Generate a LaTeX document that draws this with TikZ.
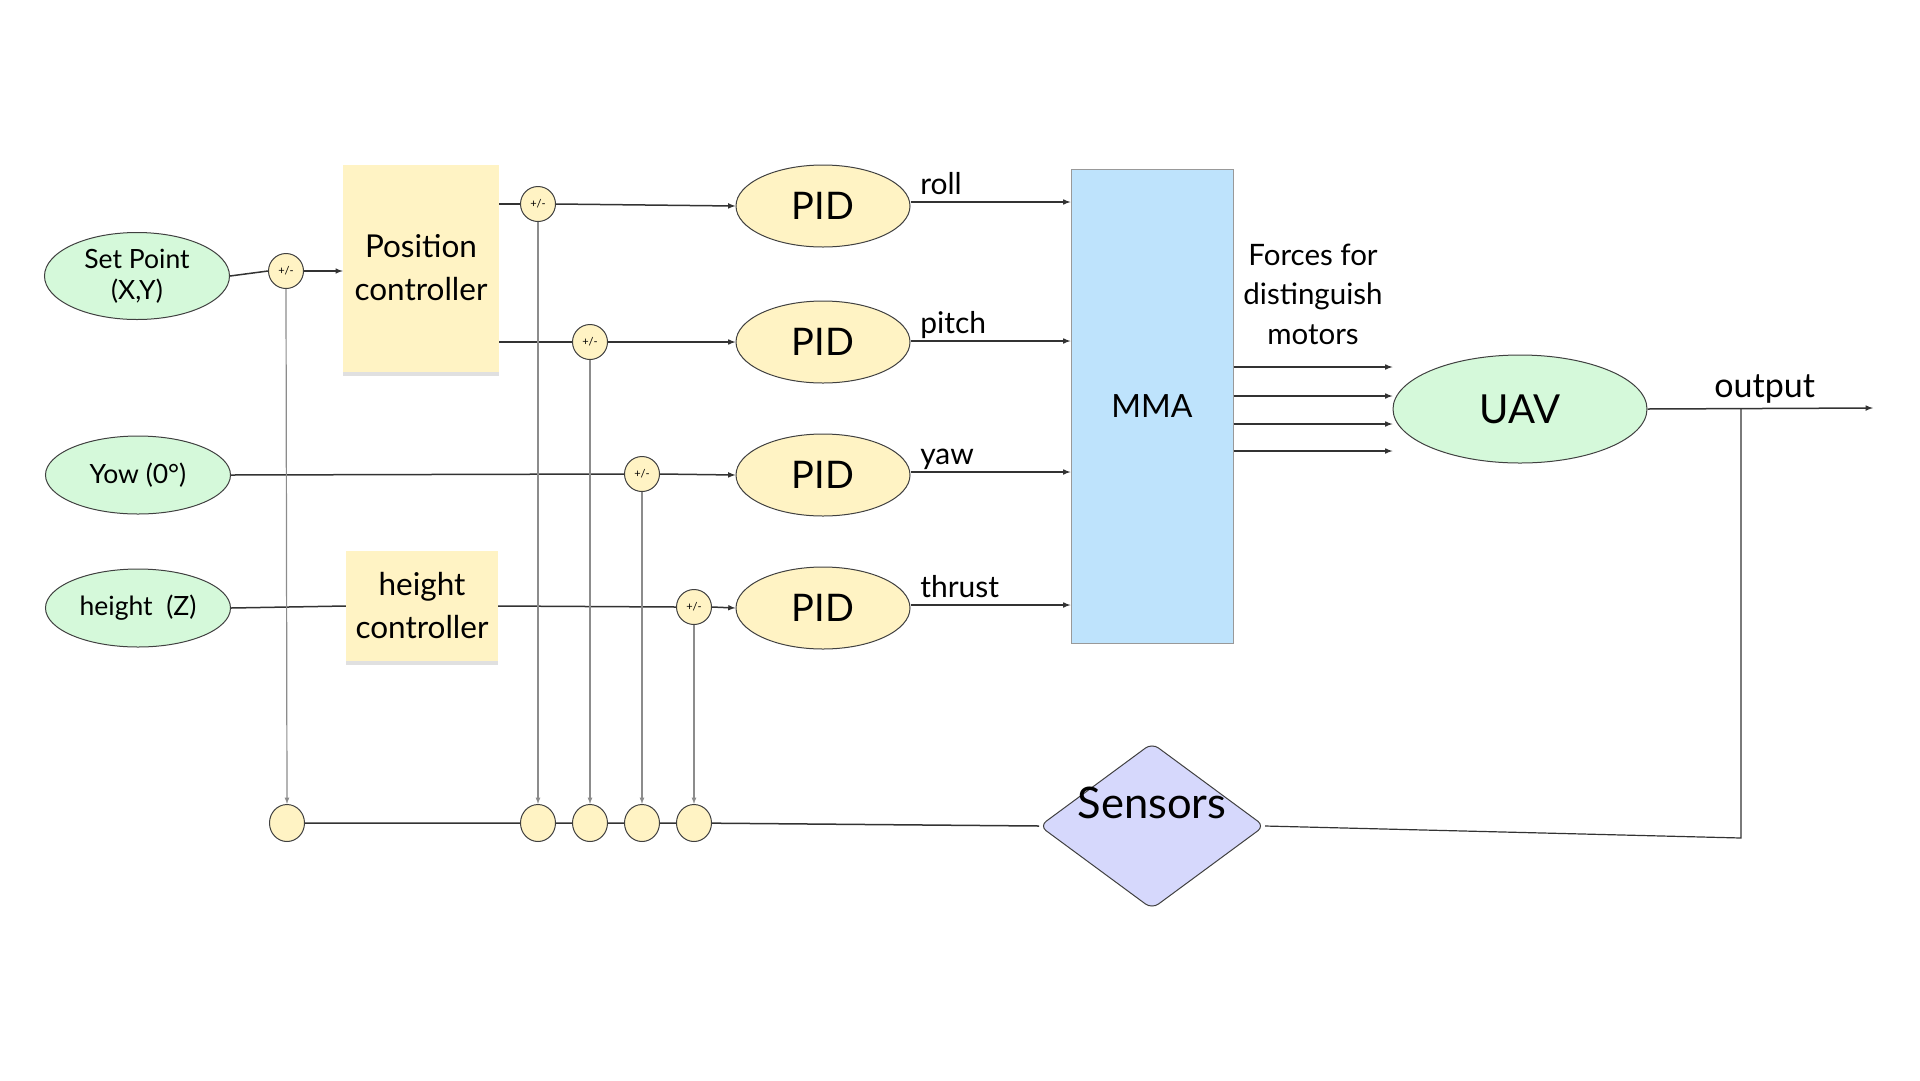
\documentclass[tikz,border=0pt]{standalone}
\usepackage{fontspec}
\setmainfont{Lato}
\usetikzlibrary{shapes.geometric,shadows}
\definecolor{noteyellow}{HTML}{FFF3C4}
\definecolor{inputgreen}{HTML}{D5F9DA}
\definecolor{mmablue}{HTML}{BEE3FC}
\definecolor{sensorblue}{HTML}{D6D8FC}
\begin{document}
\begin{tikzpicture}[
    x=1pt, y=-1pt,
    every node/.style={inner sep=0pt, text=black},
    input/.style={ellipse, draw=black!75, line width=1pt, fill=inputgreen,
        minimum width=185pt, minimum height=78pt, align=center,
        font=\fontsize{26.5}{31}\selectfont},
    pidnode/.style={ellipse, draw=black!75, line width=1pt, fill=noteyellow,
        minimum width=174pt, minimum height=82pt, font=\fontsize{38}{40}\selectfont},
    sumnode/.style={circle, draw=black!75, line width=1pt, fill=noteyellow,
        minimum size=35pt, font=\fontsize{11}{12}\selectfont},
    tapnode/.style={ellipse, draw=black!75, line width=1pt, fill=noteyellow,
        minimum width=35pt, minimum height=37pt},
    ctrlbox/.style={rectangle, fill=noteyellow, align=center,
        drop shadow={shadow xshift=0pt, shadow yshift=-4pt, fill=black!12, opacity=1},
        font=\fontsize{31.5}{43}\selectfont},
    sig/.style={font=\fontsize{30}{32}\selectfont, inner sep=0pt, pos=0, anchor=base west,
        xshift=9pt, yshift=8pt},
    signal/.style={draw=black!80, line width=1.5pt, -latex},
    feedback/.style={draw=black!45, line width=1.2pt, -latex},
    wire/.style={draw=black!80, line width=1.5pt}
]
\useasboundingbox (0,0) rectangle (1920,1080);

% inputs
\node[input, minimum height=87pt] (setpoint) at (137,276) {Set Point\\(X,Y)};
\node[input] (yaw) at (138,475) {Yow (0°)};
\node[input] (height) at (138,608) {height\ \ (Z)};

% outer controllers
\node[ctrlbox, minimum width=156pt, minimum height=207pt] (poscontrol) at (421,268) {Position\\controller};
\node[ctrlbox, minimum width=152pt, minimum height=110pt] (heightcontrol) at (422,606) {height\\controller};

% summing junctions
\node[sumnode] (s0) at (286,271) {+/-};
\node[sumnode] (s1) at (538,204) {+/-};
\node[sumnode] (s2) at (590,342) {+/-};
\node[sumnode] (s3) at (642,474) {+/-};
\node[sumnode] (s4) at (694,607) {+/-};

% feedback taps
\node[tapnode] (t0) at (287,823) {};
\node[tapnode] (t1) at (538,823) {};
\node[tapnode] (t2) at (590,823) {};
\node[tapnode] (t3) at (642,823) {};
\node[tapnode] (t4) at (694,823) {};

% inner loops
\node[pidnode] (pid1) at (823,206) {PID};
\node[pidnode] (pid2) at (823,342) {PID};
\node[pidnode] (pid3) at (823,475) {PID};
\node[pidnode] (pid4) at (823,608) {PID};

\node[rectangle, draw=black!40, line width=1pt, fill=mmablue, minimum width=162pt,
    minimum height=474pt, font=\fontsize{32}{34}\selectfont] (mma) at (1152,406) {MMA};
\node[align=center, font=\fontsize{29.5}{39.5}\selectfont] (forces) at (1313,294) {Forces for\\distinguish\\motors};
\node[ellipse, draw=black!75, line width=1pt, fill=inputgreen, minimum width=254pt,
    minimum height=108pt, font=\fontsize{40}{42}\selectfont] (uav) at (1520,409) {UAV};
\node[diamond, draw=black!75, line width=1pt, fill=sensorblue, rounded corners=8pt,
    minimum width=225pt, minimum height=166pt,
    label={[font=\fontsize{43.5}{45}\selectfont, yshift=23pt]center:Sensors}] (sensors) at (1152,826) {};

\coordinate (outend) at (1873,408);
\coordinate (branch) at (1741,409);
\coordinate (fbcorner) at (1741,838);

% forward path
\draw[wire] (setpoint.east) -- (s0.west);
\draw[signal] (s0.east) -- (s0.east -| poscontrol.west);
\draw[wire] (poscontrol.east |- s1) -- (s1.west);
\draw[wire] (poscontrol.east |- s2) -- (s2.west);
\draw[wire] (yaw.east) -- (s3.west);
\draw[wire] (height.east) -- (heightcontrol.west);
\draw[wire] (heightcontrol.east) -- (s4.west);
\draw[signal] (s1.east) -- (pid1.west);
\draw[signal] (s2.east) -- (pid2.west);
\draw[signal] (s3.east) -- (pid3.west);
\draw[signal] (s4.east) -- (pid4.west);

\draw[signal] ([yshift=4pt]pid1.east) -- node[sig] {roll} ([yshift=4pt]pid1.east -| mma.west);
\draw[signal] ([yshift=1pt]pid2.east) -- node[sig] {pitch} ([yshift=1pt]pid2.east -| mma.west);
\draw[signal] ([yshift=3pt]pid3.east) -- node[sig] {yaw} ([yshift=3pt]pid3.east -| mma.west);
\draw[signal] ([yshift=3pt]pid4.east) -- node[sig] {thrust} ([yshift=3pt]pid4.east -| mma.west);

\foreach \y in {367,396,424,451}
    \draw[signal] (mma.east |- 0,\y) -- (uav.west |- 0,\y);

\draw[signal] (uav.east) -- node[pos=0.52, anchor=south, inner sep=4pt, font=\fontsize{34}{36}\selectfont] {output} (outend);

% feedback path
\draw[wire, line width=1.2pt] (branch) -- (fbcorner) -- (sensors.east);
\draw[wire] (sensors.west) -- (t4) -- (t3) -- (t2) -- (t1) -- (t0);
\foreach \i in {0,...,4}
    \draw[feedback] (s\i.south) -- (t\i.north);
\end{tikzpicture}
\end{document}
